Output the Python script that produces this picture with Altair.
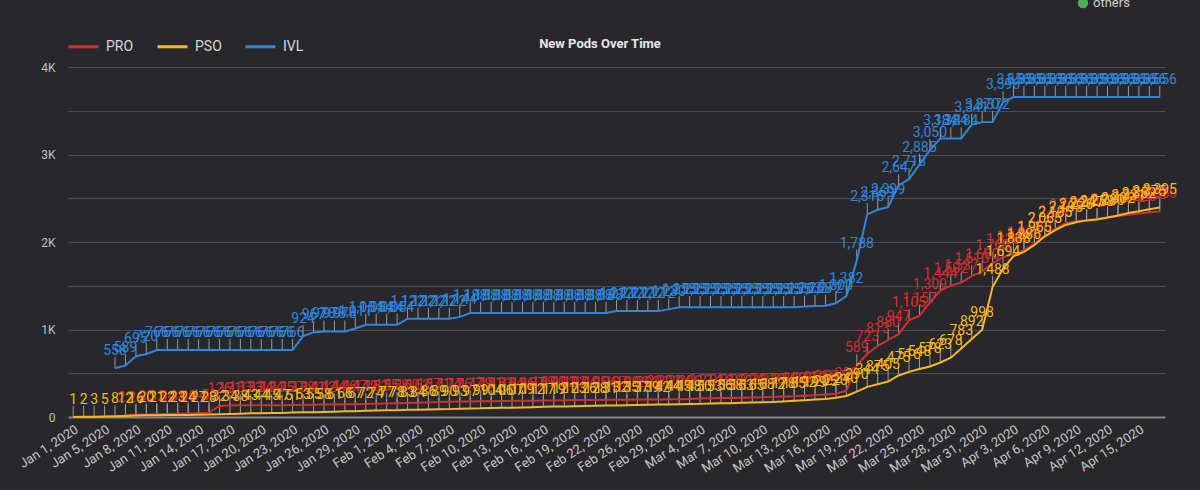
import altair as alt
import pandas as pd

# Daily categories (three days have no report)
all_days = pd.date_range("2020-01-01", "2020-04-17", freq="D")
skipped = pd.to_datetime(["2020-01-04", "2020-02-24", "2020-03-03"])
days = [d for d in all_days if d not in skipped]
dates = [f"{d:%b} {d.day}, {d.year}" for d in days]
tick_labels = dates[::3]

series_names = ["PRO", "PSO", "IVL"]
series_colors = ["#d22f2d", "#f6b81c", "#2f86dc"]

pro = [None, None, None, None, None,
       22, 26, 30, 32, 34,
       38, 40, 44, 50, 126, 131, 133, 133, 134, 134,
       135, 137, 138, 141, 142, 144, 146, 147, 149, 152,
       155, 158, 160, 163, 167, 171, 174, 176, 177, 179,
       181, 183, 184, 186, 187, 189, 190, 192, 193, 194,
       195, 196, 197, 198, 199, 200, 201, 203, 204, 206,
       212, 214, 216, 218, 221, 224, 227, 230, 234, 238,
       243, 250, 258, 265, 300, 589, 723, 813, 880, 947,
       1105, 1157, 1309, 1444, 1502, 1537, 1610, 1660, 1760, 1826,
       1862, 1905, 1980, 2070, 2150, 2215, 2236, 2250, 2262, 2281,
       2298, 2312, 2325, 2338, 2350]

pso = [1, 2, 3, 5, 8, 12, 16, 20, 21, 22,
       23, 24, 27, 28, 32, 34, 38, 43, 44, 45,
       47, 51, 53, 55, 58, 61, 66, 67, 72, 74,
       77, 78, 83, 84, 86, 89, 90, 93, 97, 99,
       104, 106, 107, 109, 112, 117, 119, 121, 123, 126,
       128, 131, 132, 135, 137, 139, 142, 144, 145, 148,
       150, 153, 156, 158, 163, 165, 168, 172, 178, 185,
       192, 199, 205, 220, 240, 290, 344, 375, 405, 475,
       516, 548, 578, 623, 678, 783, 892, 998, 1488, 1694,
       1838, 1886, 1965, 2065, 2135, 2195, 2226, 2247, 2258, 2280,
       2302, 2331, 2352, 2375, 2395]

ivl = [None, None, None, None,
       558, 589, 695, 720, 766, 766,
       766, 766, 766, 766, 766, 766, 766, 766, 766, 766,
       766, 766, 924, 967, 978, 978, 978, 1011, 1054, 1054,
       1054, 1054, 1122, 1122, 1122, 1122, 1122, 1144, 1188, 1188,
       1188, 1188, 1188, 1188, 1188, 1188, 1188, 1188, 1188, 1188,
       1188, 1188, 1212, 1212, 1212, 1212, 1212, 1230, 1255, 1255,
       1255, 1255, 1255, 1255, 1255, 1255, 1255, 1255, 1255, 1255,
       1263, 1268, 1272, 1300, 1382, 1788, 2316, 2369, 2399, 2647,
       2718, 2885, 3050, 3184, 3184, 3184, 3341, 3370, 3372, 3596,
       3656, 3656, 3656, 3656, 3656, 3656, 3656, 3656, 3656, 3656,
       3656, 3656, 3656, 3656, 3656]

chart_title = "New Pods Over Time"
other_legend = ["others"]

rows = []
for name, vals in zip(series_names, [pro, pso, ivl]):
    for d, v in zip(dates, vals):
        if v is not None:
            rows.append({"date": d, "series": name, "value": v})
df = pd.DataFrame(rows)

FONT = "Roboto"

x = alt.X(
    "date:O",
    sort=dates,
    scale=alt.Scale(type="point", padding=0.5),
    axis=alt.Axis(
        values=tick_labels, labelAngle=-33, labelFontSize=13, labelColor="#c6c6c6",
        labelFont=FONT, labelPadding=6, ticks=False, domain=True,
        domainColor="#858585", domainWidth=2, grid=False, labelOverlap=False,
        title=None,
    ),
)
y = alt.Y(
    "value:Q",
    scale=alt.Scale(domain=[0, 4000], nice=False),
    axis=alt.Axis(
        values=list(range(0, 4001, 500)),
        labelExpr="datum.value == 0 ? '0' : (datum.value % 1000 == 0 ? (datum.value / 1000) + 'K' : '')",
        grid=True, gridColor="#4a4a4f", gridWidth=1, domain=False, ticks=False,
        labelColor="#c0c0c0", labelFontSize=12, labelFont=FONT, labelPadding=13,
        title=None,
    ),
)
color_scale = alt.Scale(domain=series_names, range=series_colors)

base = alt.Chart(df).encode(x=x, y=y)

# short connectors from each point up to its value label
connectors = base.mark_rule(color="#9a9a9a", strokeWidth=1, y2Offset=-11).encode(
    y2=alt.Y2("value")
)

lines = base.mark_line(strokeWidth=2).encode(
    color=alt.Color(
        "series:N", scale=color_scale,
        legend=alt.Legend(
            orient="none", legendX=-1, legendY=-37, direction="horizontal",
            title=None, symbolType="stroke", symbolSize=900, symbolStrokeWidth=3,
            labelFontSize=14, labelColor="#d6d6d6", labelFont=FONT,
            columnPadding=17, labelOffset=6, padding=0,
        ),
    )
)

value_labels = base.mark_text(
    dy=-13, baseline="alphabetic", fontSize=14, font=FONT
).encode(
    text=alt.Text("value:Q", format=",d"),
    color=alt.Color("series:N", scale=color_scale, legend=None),
)

# chart heading, drawn as a text mark above the plot area
heading = alt.Chart(pd.DataFrame({"t": [chart_title]})).mark_text(
    align="center", baseline="middle", fontSize=13, fontWeight="bold",
    font=FONT, color="#e6e6e6",
).encode(x=alt.value(532), y=alt.value(-23), text="t:N")

others = alt.Chart(pd.DataFrame({"name": other_legend}))
others_dot = others.mark_circle(size=110, color="#4caf50", opacity=1).encode(
    x=alt.value(1015), y=alt.value(-64)
)
others_text = others.mark_text(
    align="left", baseline="middle", fontSize=13, font=FONT, color="#cfcfcf"
).encode(x=alt.value(1025), y=alt.value(-64), text="name:N")

chart = alt.layer(
    connectors, lines, value_labels, heading, others_dot, others_text
).properties(
    width=1097,
    height=350,
    background="#28282c",
    padding={"left": 68, "top": 67, "right": 35, "bottom": 73},
    autosize=alt.AutoSizeParams(type="none"),
).configure_view(stroke=None)

chart.save("out.html", embed_options={"renderer": "svg", "actions": False})
